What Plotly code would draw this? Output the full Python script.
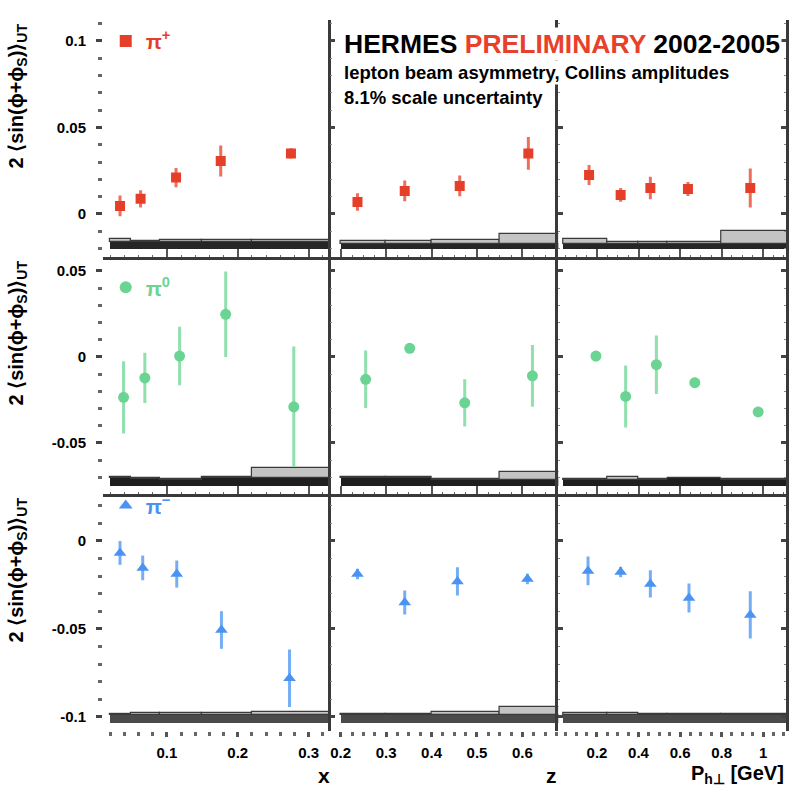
import plotly.graph_objects as go
from plotly.subplots import make_subplots

# ---------------- data ----------------
# kinematic positions of the points
x_pip = [0.034, 0.063, 0.113, 0.176, 0.275]
x_pi0 = [0.039, 0.069, 0.118, 0.183, 0.279]
x_pim = [0.034, 0.066, 0.114, 0.177, 0.273]
z_pip = [0.237, 0.341, 0.462, 0.613]
z_pi0 = [0.255, 0.352, 0.473, 0.622]
z_pim = [0.237, 0.341, 0.457, 0.611]
pt_pip = [0.162, 0.314, 0.457, 0.638, 0.938]
pt_pi0 = [0.195, 0.338, 0.486, 0.671, 0.976]
pt_pim = [0.157, 0.314, 0.457, 0.643, 0.938]

# asymmetry values and statistical errors
pip_x = [0.0046, 0.0087, 0.0210, 0.0306, 0.0350]
pip_x_err = [0.0060, 0.0050, 0.0056, 0.0090, 0.0030]
pip_z = [0.0069, 0.0133, 0.0162, 0.0350]
pip_z_err = [0.0050, 0.0060, 0.0060, 0.0095]
pip_pt = [0.0225, 0.0110, 0.0150, 0.0144, 0.0150]
pip_pt_err = [0.0058, 0.0040, 0.0065, 0.0040, 0.0113]

pi0_x = [-0.0235, -0.0122, 0.0005, 0.0248, -0.0290]
pi0_x_err = [0.0210, 0.0146, 0.0170, 0.0248, 0.0350]
pi0_z = [-0.0130, 0.0050, -0.0267, -0.0110]
pi0_z_err = [0.0167, 0.0025, 0.0137, 0.0180]
pi0_pt = [0.0005, -0.0230, -0.0045, -0.0150, -0.0320]
pi0_pt_err = [0.0030, 0.0180, 0.0170, 0.0030, 0.0030]

pim_x = [-0.0068, -0.0153, -0.0188, -0.0506, -0.0780]
pim_x_err = [0.0068, 0.0070, 0.0077, 0.0107, 0.0163]
pim_z = [-0.0188, -0.0350, -0.0230, -0.0216]
pim_z_err = [0.0030, 0.0068, 0.0080, 0.0030]
pim_pt = [-0.0170, -0.0176, -0.0244, -0.0324, -0.0420]
pim_pt_err = [0.0082, 0.0030, 0.0077, 0.0082, 0.0134]

# systematic bands: bin edges, baseline per row, band heights
x_edges = [0.02, 0.05, 0.09, 0.15, 0.22, 0.40]
z_edges = [0.2, 0.3, 0.4, 0.55, 0.7]
pt_edges = [0.04, 0.25, 0.4, 0.54, 0.8, 1.2]
band_base = [-0.0202, -0.0750, -0.1032]

pip_x_dark = [0.004, 0.004, 0.004, 0.004, 0.004]
pip_z_dark = [0.003, 0.003, 0.003, 0.003]
pip_pt_dark = [0.003, 0.003, 0.003, 0.003, 0.003]
pip_x_sys = [0.0015, 0.0008, 0.0012, 0.0012, 0.0012]
pip_z_sys = [0.0013, 0.0013, 0.0023, 0.0058]
pip_pt_sys = [0.0025, 0.0012, 0.0012, 0.0012, 0.0075]

pi0_x_dark = [0.0047, 0.0041, 0.0035, 0.0047, 0.0047]
pi0_z_dark = [0.0047, 0.0047, 0.0035, 0.0035]
pi0_pt_dark = [0.0035, 0.0035, 0.0035, 0.0045, 0.0035]
pi0_x_sys = [0.0003, 0.0003, 0.0003, 0.0003, 0.0058]
pi0_z_sys = [0.0003, 0.0003, 0.0005, 0.0045]
pi0_pt_sys = [0.0003, 0.0017, 0.0003, 0.0003, 0.0003]

pim_x_dark = [0.0045, 0.0045, 0.0045, 0.0045, 0.0045]
pim_z_dark = [0.0045, 0.0045, 0.0045, 0.0045]
pim_pt_dark = [0.0045, 0.0045, 0.0045, 0.0045, 0.0045]
pim_x_sys = [0.0005, 0.0008, 0.0008, 0.0010, 0.0017]
pim_z_sys = [0.0005, 0.0005, 0.0017, 0.0045]
pim_pt_sys = [0.0008, 0.0008, 0.0005, 0.0005, 0.0005]

# tick labels
x_ticks = [0.1, 0.2, 0.3]
x_ticktext = ["0.1", "0.2", "0.3"]
z_ticks = [0.2, 0.3, 0.4, 0.5, 0.6]
z_ticktext = ["0.2", "0.3", "0.4", "0.5", "0.6"]
pt_ticks = [0.2, 0.4, 0.6, 0.8, 1.0]
pt_ticktext = ["0.2", "0.4", "0.6", "0.8", "1"]
y_ticks_rows = [[0.0, 0.05, 0.1], [-0.05, 0.0, 0.05], [-0.1, -0.05, 0.0]]
y_ticktext_rows = [["0", "0.05", "0.1"], ["-0.05", "0", "0.05"], ["-0.1", "-0.05", "0"]]
y_ranges = [[-0.0249, 0.1121], [-0.0797, 0.0581], [-0.108, 0.0267]]
x_ranges = [[0.01, 0.331], [0.178, 0.679], [0.014, 1.11]]

meson_names = ["π<sup>+</sup>", "π<sup>0</sup>", "π<sup>−</sup>"]
meson_colors = ["#e63f29", "#6cd493", "#4a93f2"]
err_colors = ["#ee6e5c", "#8fe0ad", "#76aef5"]
meson_symbols = ["square", "circle", "triangle-up"]
meson_sizes = [10, 11, 11]
dark_colors = ["#262626", "#1f1f1f", "#4a4a4a"]

# ---------------- figure ----------------
FONT = "Liberation Sans"
fig = make_subplots(rows=3, cols=3, horizontal_spacing=0, vertical_spacing=0)

kin = [[x_pip, z_pip, pt_pip], [x_pi0, z_pi0, pt_pi0], [x_pim, z_pim, pt_pim]]
vals = [[pip_x, pip_z, pip_pt], [pi0_x, pi0_z, pi0_pt], [pim_x, pim_z, pim_pt]]
errs = [[pip_x_err, pip_z_err, pip_pt_err], [pi0_x_err, pi0_z_err, pi0_pt_err],
        [pim_x_err, pim_z_err, pim_pt_err]]
darks = [[pip_x_dark, pip_z_dark, pip_pt_dark], [pi0_x_dark, pi0_z_dark, pi0_pt_dark],
         [pim_x_dark, pim_z_dark, pim_pt_dark]]
syss = [[pip_x_sys, pip_z_sys, pip_pt_sys], [pi0_x_sys, pi0_z_sys, pi0_pt_sys],
        [pim_x_sys, pim_z_sys, pim_pt_sys]]
edges = [x_edges, z_edges, pt_edges]
legend_ids = ["legend", "legend2", "legend3"]

for r in range(3):
    for c in range(3):
        e = edges[c]
        centers = [(e[i] + e[i + 1]) / 2 for i in range(len(e) - 1)]
        widths = [e[i + 1] - e[i] for i in range(len(e) - 1)]
        dark = darks[r][c]
        sys = syss[r][c]
        base = band_base[r]
        fig.add_trace(go.Bar(x=centers, y=dark, width=widths, base=[base] * len(dark),
                             marker=dict(color=dark_colors[r], line=dict(width=0)),
                             showlegend=False, hoverinfo="skip"), row=r + 1, col=c + 1)
        fig.add_trace(go.Bar(x=centers, y=sys, width=widths,
                             base=[base + d for d in dark],
                             marker=dict(color="#c4c4c4", line=dict(color="#3a3a3a", width=1.2)),
                             showlegend=False, hoverinfo="skip"), row=r + 1, col=c + 1)
        fig.add_trace(go.Scatter(
            x=kin[r][c], y=vals[r][c], mode="markers",
            marker=dict(symbol=meson_symbols[r], size=meson_sizes[r], color=meson_colors[r],
                        line=dict(width=0)),
            error_y=dict(type="data", array=errs[r][c], color=err_colors[r], thickness=3, width=0),
            name=meson_names[r], showlegend=(c == 0), legend=legend_ids[r]),
            row=r + 1, col=c + 1)

tickfont = dict(family=FONT, size=15, color="black", weight="bold")
xt = [(x_ticks, x_ticktext, 0.02), (z_ticks, z_ticktext, 0.025), (pt_ticks, pt_ticktext, 0.05)]
for r in range(3):
    for c in range(3):
        tv, tt, mdt = xt[c]
        fig.update_xaxes(
            range=x_ranges[c], tickvals=tv, ticktext=tt, showticklabels=(r == 2),
            showline=(r < 2), linecolor="#3a3a3a", linewidth=2.5,
            ticks="outside" if r == 2 else "inside", ticklen=5 if r == 2 else 8,
            tickwidth=3 if r == 2 else 2, tickcolor="#555",
            minor=dict(ticks="outside" if r == 2 else "inside", ticklen=4 if r == 2 else 2,
                       tickwidth=3 if r == 2 else 1, dtick=mdt, tick0=0, tickcolor="#666"),
            tickfont=tickfont, ticklabelstandoff=3, showgrid=False, zeroline=False,
            row=r + 1, col=c + 1)
        if c == 0:
            fig.update_yaxes(
                range=y_ranges[r], tickvals=y_ticks_rows[r], ticktext=y_ticktext_rows[r],
                showline=False, ticks="outside", ticklen=6, tickwidth=3, tickcolor="#444",
                minor=dict(ticks="outside", ticklen=4, tickwidth=3, dtick=0.01, tick0=0,
                           tickcolor="#666"),
                tickfont=tickfont, ticklabelstandoff=7, showgrid=False, zeroline=False,
                row=r + 1, col=c + 1)
        else:
            fig.update_yaxes(
                range=y_ranges[r], tickvals=y_ticks_rows[r], showticklabels=False,
                showline=True, linecolor="#3a3a3a", linewidth=2.5,
                ticks="inside", ticklen=5, tickwidth=3, tickcolor="#444",
                minor=dict(ticks="inside", ticklen=2, tickwidth=1, dtick=0.01, tick0=0,
                           tickcolor="#888"),
                mirror="ticks" if c == 2 else False,
                showgrid=False, zeroline=False, row=r + 1, col=c + 1)

# legends (one per row)
legend_y = [0.970, 0.6235, 0.3165]
for r in range(3):
    fig.update_layout(**{legend_ids[r]: dict(
        x=0.004, y=legend_y[r], xanchor="left", yanchor="middle",
        bgcolor="rgba(0,0,0,0)", borderwidth=0, itemwidth=30, itemsizing="constant",
        font=dict(family=FONT, size=21, color=meson_colors[r], weight="bold"))})

annotations = [
    dict(text="HERMES <span style='color:#e8402a'>PRELIMINARY</span> 2002-2005",
         x=0.3495, y=0.9665, font=dict(family=FONT, size=26.5, color="black", weight="bold"),
         bgcolor="white"),
    dict(text="lepton beam asymmetry, Collins amplitudes",
         x=0.3495, y=0.9265, font=dict(family=FONT, size=18.5, color="black", weight="bold"),
         bgcolor="white"),
    dict(text="8.1% scale uncertainty",
         x=0.3495, y=0.8912, font=dict(family=FONT, size=18.5, color="black", weight="bold")),
]
for a in annotations:
    a.update(xref="paper", yref="paper", xanchor="left", yanchor="middle", showarrow=False)
    fig.add_annotation(**a)

# axis titles
for txt, xp in [("x", 0.3235), ("z", 0.6565)]:
    fig.add_annotation(text=txt, x=xp, y=-0.063, xref="paper", yref="paper",
                       xanchor="center", yanchor="middle", showarrow=False,
                       font=dict(family=FONT, size=21, color="black", weight="bold"))
fig.add_annotation(text="P<sub>h⊥</sub> [GeV]", x=1.0, y=-0.0615, xref="paper", yref="paper",
                   xanchor="right", yanchor="middle", showarrow=False,
                   font=dict(family=FONT, size=20, color="black", weight="bold"))

ytitle = "2 ⟨sin(ϕ+ϕ<sub>S</sub>)⟩<sub>UT</sub>"
for r in range(3):
    top = 1 - r / 3
    fig.add_annotation(text=ytitle, x=-0.125, y=top - 0.002, xref="paper", yref="paper",
                       xanchor="center", yanchor="top", textangle=-90, showarrow=False,
                       font=dict(family=FONT, size=20, color="black", weight="bold"))

fig.update_layout(
    width=791, height=788, margin=dict(l=103, r=2, t=20, b=57),
    plot_bgcolor="white", paper_bgcolor="white", barmode="overlay", bargap=0,
)

fig.write_html("out.html")
